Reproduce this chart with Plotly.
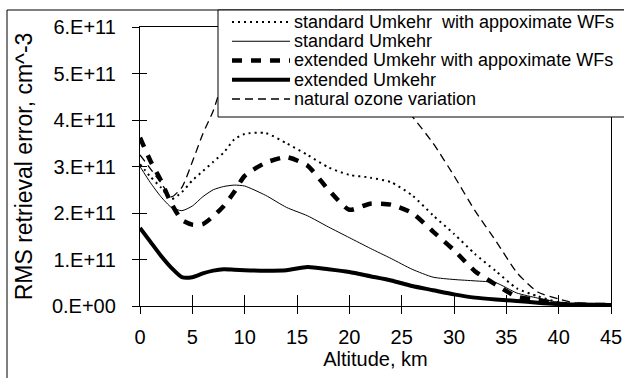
import plotly.graph_objects as go

altitude_km = [0, 1, 2, 3, 4, 5, 6, 7, 8, 9, 10, 12, 14, 16, 18, 20, 22, 24, 26, 28, 30, 32, 34, 36, 38, 40, 42, 45]

std_approx = [3.05, 2.78, 2.55, 2.3, 2.45, 2.7, 2.9, 3.1, 3.3, 3.58, 3.7, 3.72, 3.5, 3.25, 2.98, 2.82, 2.76, 2.66, 2.38, 1.95, 1.55, 1.12, 0.75, 0.38, 0.21, 0.08, 0.04, 0.03]
std = [3.0, 2.65, 2.35, 2.12, 2.05, 2.15, 2.35, 2.5, 2.57, 2.6, 2.58, 2.38, 2.12, 1.94, 1.7, 1.47, 1.24, 1.02, 0.79, 0.62, 0.57, 0.54, 0.5, 0.28, 0.17, 0.08, 0.03, 0.02]
ext_approx = [3.62, 3.12, 2.7, 2.2, 1.85, 1.75, 1.76, 1.93, 2.15, 2.45, 2.8, 3.08, 3.2, 3.02, 2.5, 2.07, 2.2, 2.18, 2.0, 1.6, 1.2, 0.75, 0.46, 0.2, 0.13, 0.05, 0.03, 0.02]
ext = [1.68, 1.38, 1.08, 0.82, 0.62, 0.62, 0.7, 0.76, 0.79, 0.78, 0.77, 0.76, 0.77, 0.84, 0.79, 0.73, 0.64, 0.55, 0.43, 0.34, 0.25, 0.18, 0.14, 0.11, 0.07, 0.04, 0.03, 0.02]
natural = [3.25, 2.95, 2.65, 2.35, 2.55, 3.1, 3.7, 4.2, 4.9, 5.5, 6.0, 6.5, 6.7, 6.6, 6.2, 5.7, 5.1, 4.6, 4.08, 3.5, 2.8, 2.05, 1.4, 0.72, 0.3, 0.15, 0.05, 0.02]

scale = 1e11

series_names = [
    "standard Umkehr  with appoximate WFs",
    "standard Umkehr",
    "extended Umkehr with appoximate WFs",
    "extended Umkehr",
    "natural ozone variation",
]

y_tick_vals = [0, 1e11, 2e11, 3e11, 4e11, 5e11, 6e11]
y_tick_text = ["0.E+00", "1.E+11", "2.E+11", "3.E+11", "4.E+11", "5.E+11", "6.E+11"]
x_tick_vals = [0, 5, 10, 15, 20, 25, 30, 35, 40, 45]

styles = [
    dict(width=2, dash="2px,4px"),
    dict(width=1),
    dict(width=4.5, dash="10px,9px"),
    dict(width=4),
    dict(width=1.3, dash="8px,5px"),
]
datasets = [std_approx, std, ext_approx, ext, natural]

fig = go.Figure()
for name, vals, st in zip(series_names, datasets, styles):
    fig.add_trace(go.Scatter(
        x=altitude_km, y=[v * scale for v in vals], name=name, mode="lines",
        line=dict(color="black", shape="spline", smoothing=0.6, **st),
        showlegend=False,
    ))

# invisible trace to activate overlay axes (inner ticks)
fig.add_trace(go.Scatter(x=[], y=[], xaxis="x2", yaxis="y2", showlegend=False, hoverinfo="skip"))

font = "Liberation Sans, Arial, sans-serif"

# plot area in pixels: x 140..611, y 27..306
W_PLOT, H_PLOT, L, B_Y = 471.0, 279.0, 140.0, 306.0
def px(x):
    return (x - L) / W_PLOT
def py(y):
    return (B_Y - y) / H_PLOT

shapes = [
    # outer chart frame
    dict(type="rect", xref="paper", yref="paper", x0=px(7), x1=px(700), y0=py(420), y1=py(10),
         line=dict(color="black", width=1), fillcolor="rgba(0,0,0,0)", layer="below"),
    # legend box
    dict(type="rect", xref="paper", yref="paper", x0=px(218), x1=px(700), y0=py(117), y1=py(10),
         line=dict(color="black", width=1), fillcolor="white", layer="above"),
]
annotations = []
row_y = [22, 41.25, 60.5, 79.75, 99]
for name, st, ry in zip(series_names, styles, row_y):
    shapes.append(dict(type="line", xref="paper", yref="paper", x0=px(232), x1=px(290),
                       y0=py(ry), y1=py(ry), line=dict(color="black", **st), layer="above"))
    annotations.append(dict(text=name, xref="paper", yref="paper", x=px(292), y=py(ry),
                            xanchor="left", yanchor="middle", showarrow=False,
                            font=dict(size=18, family=font, color="black")))

fig.update_layout(
    width=624, height=378,
    margin=dict(l=140, r=13, t=27, b=72, autoexpand=False),
    paper_bgcolor="white", plot_bgcolor="white",
    font=dict(family=font, color="black", size=20),
    showlegend=False,
    xaxis=dict(
        range=[0, 45], tickvals=x_tick_vals, ticks="outside", ticklen=7, tickwidth=1.3,
        tickcolor="black", showline=True, linecolor="black", linewidth=1.3, mirror=True,
        showgrid=False, zeroline=False, ticklabelstandoff=6,
        title=dict(text="Altitude, km", font=dict(size=20), standoff=4),
    ),
    yaxis=dict(
        range=[0, 6e11], tickvals=y_tick_vals, ticktext=y_tick_text, ticks="outside", ticklen=7,
        tickwidth=1.3, tickcolor="black", showline=True, linecolor="black", linewidth=1.3,
        mirror=True, showgrid=False, zeroline=False, ticklabelstandoff=12,
        title=dict(text="RMS retrieval error, cm^-3", font=dict(size=23), standoff=12),
    ),
    xaxis2=dict(range=[0, 45], overlaying="x", tickvals=x_tick_vals, ticks="inside", ticklen=11,
                tickwidth=1.3, tickcolor="black", showticklabels=False, showgrid=False,
                zeroline=False, showline=False),
    yaxis2=dict(range=[0, 6e11], overlaying="y", tickvals=y_tick_vals, ticks="inside", ticklen=7,
                tickwidth=1.3, tickcolor="black", showticklabels=False, showgrid=False,
                zeroline=False, showline=False),
    shapes=shapes,
    annotations=annotations,
)

fig.write_html("out.html", config={"displayModeBar": False},
               post_script="document.body.style.margin='0';document.body.style.overflow='hidden';")
